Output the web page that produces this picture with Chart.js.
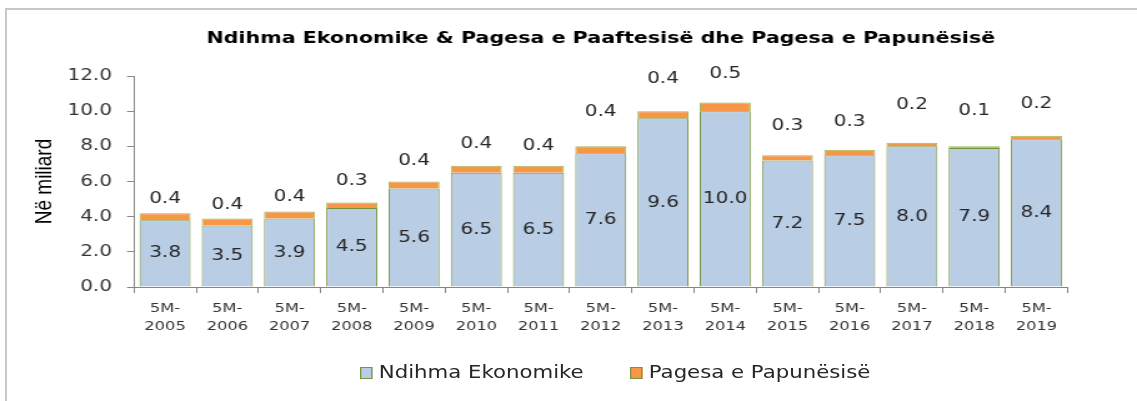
<!DOCTYPE html>
<html>
<head>
<meta charset="utf-8">
<script src="https://cdn.jsdelivr.net/npm/chart.js@4.4.1/dist/chart.umd.min.js"></script>
<style>
  body { margin: 0; background: #fff; width: 1137px; height: 401px; overflow: hidden; position: relative; }
  #frame { position: absolute; left: 5px; top: 8px; width: 1140px; height: 400px; border-left: 2px solid #c8c8c8; border-top: 2px solid #c8c8c8; }
  #chart { position: absolute; left: 0; top: 0; }
  .leg { position: absolute; top: 362px; transform: scaleX(1.25); transform-origin: left center; font: 17px "DejaVu Sans"; color: #262626; white-space: nowrap; line-height: 20px; }
  .leg span.box { display: inline-block; width: 8px; height: 10px; border: 1px solid #77933C; margin-right: 5px; vertical-align: -1px; }
</style>
</head>
<body>
<div id="frame"></div>
<canvas id="chart" width="910" height="401" style="width:1137px;height:401px"></canvas>
<div class="leg" style="left:360px"><span class="box" style="background:#B9CDE5"></span>Ndihma Ekonomike</div>
<div class="leg" style="left:630px"><span class="box" style="background:#F79646"></span>Pagesa e Papunësisë</div>
<script>
// values in billion
let periods = ["2005","2006","2007","2008","2009","2010","2011","2012","2013","2014","2015","2016","2017","2018","2019"];
let ekonomike = [3.8, 3.5, 3.9, 4.5, 5.6, 6.5, 6.5, 7.6, 9.6, 10.0, 7.2, 7.5, 8.0, 7.9, 8.4];
let papunesise = [0.4, 0.4, 0.4, 0.3, 0.4, 0.4, 0.4, 0.4, 0.4, 0.5, 0.3, 0.3, 0.2, 0.1, 0.2];
let yTicks = [0, 2, 4, 6, 8, 10, 12];

let chartLabels = [];
periods.forEach(p => chartLabels.push(["5M-", p]));

//labels drawn in the bars and above them
const barLabels = {
    id: 'barLabels',
    afterDatasetsDraw(chart, args, opts) {
        const ctx = chart.ctx;
        ctx.save();
        ctx.font = '16px "DejaVu Sans"';
        ctx.fillStyle = '#262626';
        ctx.textAlign = 'center';
        ctx.textBaseline = 'middle';
        chart.getDatasetMeta(0).data.forEach((bar, i) => {
            ctx.fillText(ekonomike[i].toFixed(1), bar.x, (bar.y + bar.base) / 2);
        });
        chart.getDatasetMeta(1).data.forEach((bar, i) => {
            ctx.fillText(papunesise[i].toFixed(1), bar.x, bar.y - opts.lift[i]);
        });
        ctx.restore();
    }
};

const axisGray = '#868686';
const ctx = document.getElementById('chart').getContext('2d');

let myChart = new Chart(ctx, {
    type: 'bar',
    data: {
        labels: chartLabels,
        datasets: [{
            label: 'Ndihma Ekonomike',
            data: ekonomike,
            backgroundColor: '#B9CDE5',
            borderColor: '#77933C',
            borderWidth: 1,
            barPercentage: 0.82,
            categoryPercentage: 1
        }, {
            label: 'Pagesa e Papunësisë',
            data: papunesise,
            backgroundColor: '#F79646',
            borderColor: '#9BBB59',
            borderWidth: 1,
            barPercentage: 0.82,
            categoryPercentage: 1
        }]
    },
    options: {
        responsive: false,
        devicePixelRatio: 1,
        animation: false,
        layout: { padding: { left: 0, right: 55.6, top: 0, bottom: 0 } },
        plugins: {
            legend: { display: false },
            tooltip: { enabled: false },
            title: {
                display: true,
                fullSize: false,
                text: 'Ndihma Ekonomike & Pagesa e Paaftesisë dhe Pagesa e Papunësisë',
                color: '#000',
                font: { family: '"DejaVu Sans"', size: 16.5, weight: 'bold', lineHeight: 1.2 },
                padding: { top: 28.6, bottom: 27.6 }
            },
            barLabels: { lift: [14, 14, 15, 22, 21, 22, 20, 34, 32, 29, 29, 28, 38, 35, 32] }
        },
        scales: {
            x: {
                stacked: true,
                afterFit: s => { s.height = 114; },
                grid: { display: true, drawOnChartArea: false, drawTicks: true, tickLength: 6, color: axisGray, offset: true },
                border: { display: true, color: axisGray, width: 1 },
                ticks: {
                    color: '#333',
                    padding: 7,
                    maxRotation: 0,
                    autoSkip: false,
                    font: { family: '"DejaVu Sans"', size: 13, lineHeight: 1.35 }
                }
            },
            y: {
                stacked: true,
                min: 0,
                max: 12,
                afterFit: s => { s.width = 107.2; },
                afterBuildTicks: s => { s.ticks = yTicks.map(v => ({ value: v })); },
                grid: { display: true, drawOnChartArea: false, drawTicks: true, tickLength: 5.6, color: axisGray },
                border: { display: true, color: axisGray, width: 1 },
                title: {
                    display: true,
                    text: 'Në miliard',
                    color: '#000',
                    font: { family: '"Liberation Sans"', size: 19, lineHeight: 1.2 },
                    padding: { top: 24.6, bottom: 0 }
                },
                ticks: {
                    color: '#333',
                    padding: 12,
                    font: { family: '"DejaVu Sans"', size: 16 },
                    callback: v => v.toFixed(1)
                }
            }
        }
    },
    plugins: [barLabels]
});
</script>
</body>
</html>
